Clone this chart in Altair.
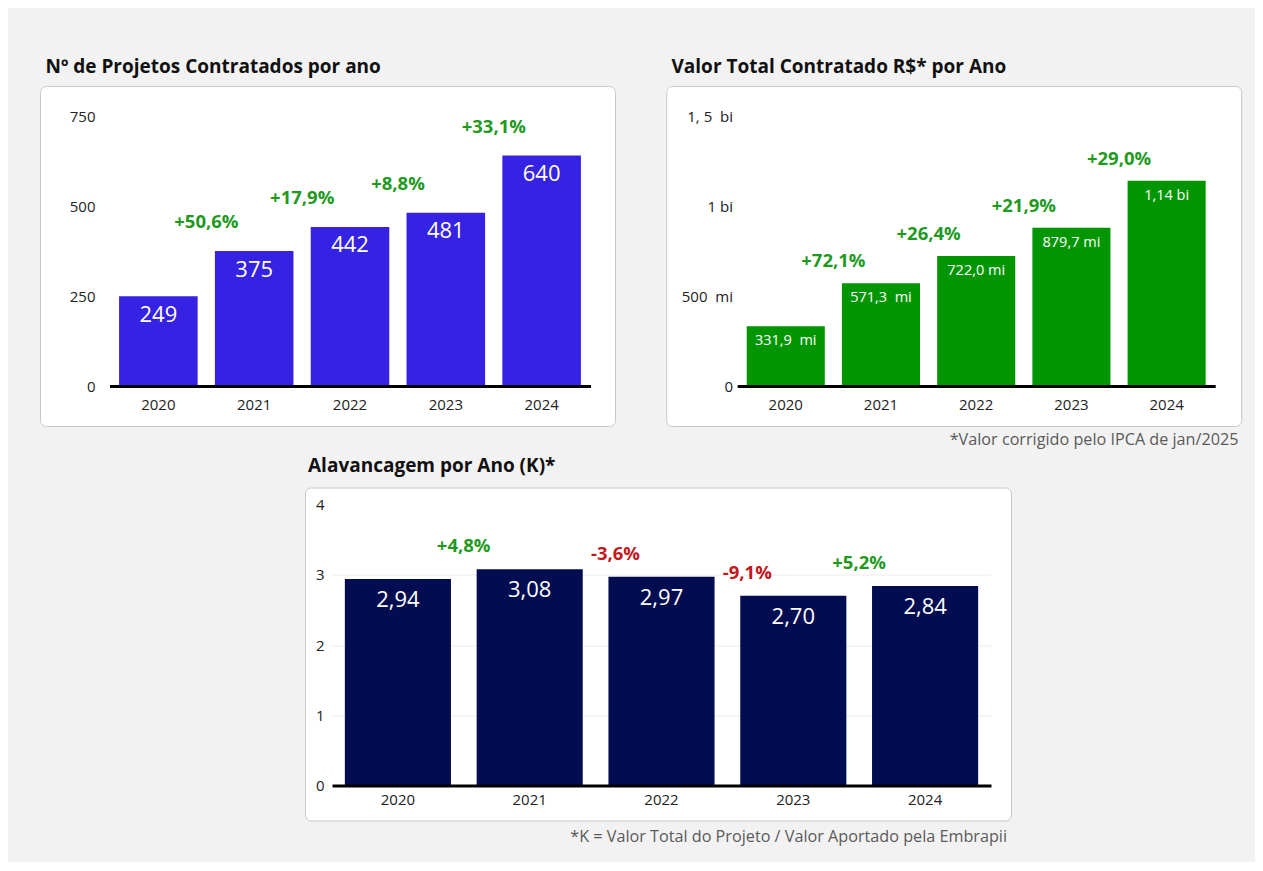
import altair as alt
import pandas as pd

FONT = "Open Sans"

anos = ["2020", "2021", "2022", "2023", "2024"]

projetos = [249, 375, 442, 481, 640]
projetos_var = [None, 50.6, 17.9, 8.8, 33.1]
projetos_ticks = [0, 250, 500, 750]

valor_mi = [331.9, 571.3, 722.0, 879.7, 1140.0]
valor_rotulos = ["331,9\u00a0 mi", "571,3\u00a0 mi", "722,0 mi", "879,7 mi", "1,14 bi"]
valor_var = [None, 72.1, 26.4, 21.9, 29.0]
valor_ticks = [0, 500, 1000, 1500]
valor_tick_rotulos = ["0\u00a0\u00a0", "500\u00a0 mi\u00a0", "1 bi\u00a0\u00a0", "1, 5\u00a0 bi"]

alav = [2.94, 3.08, 2.97, 2.70, 2.84]
alav_var = [None, 4.8, -3.6, -9.1, 5.2]
alav_ticks = [0, 1, 2, 3, 4]

titulos = [
    "Nº de Projetos Contratados por ano",
    "Valor Total Contratado R$* por Ano",
    "Alavancagem por Ano (K)*",
]
notas = [
    "*Valor corrigido pelo IPCA de jan/2025",
    "*K = Valor Total do Projeto / Valor Aportado pela Embrapii",
]

VERDE = "#1f9a1f"
VERMELHO = "#c4161c"


def pct(v):
    return None if v is None else f"{v:+.1f}%".replace(".", ",")


def frame(valores, rotulos, var):
    return pd.DataFrame({
        "ano": anos,
        "valor": valores,
        "rotulo": rotulos,
        "var": [0 if v is None else v for v in var],
        "tem": [v is not None for v in var],
        "var_txt": [pct(v) or "" for v in var],
    })


def painel(df, cor, dom, rng, ticks, label_expr, ylab_x, xrng, pi, po, W, H,
           zero_rel, xlab_pad, bar_font, bar_dy, pct_dy, dx_pos, dx_neg, grid,
           titulo, title_dx, title_off, nota=None, nota_xy=None):
    x = alt.X("ano:N", sort=anos, title=None,
              scale=alt.Scale(range=xrng, paddingInner=pi, paddingOuter=po),
              axis=alt.Axis(orient="bottom", offset=-(H - zero_rel), domainColor="black",
                            domainWidth=3, ticks=False, tickSize=0, labelPadding=xlab_pad,
                            labelAngle=0, labelFont=FONT, labelFontSize=15,
                            labelColor="#222222", grid=False, zindex=1))
    yaxis = dict(orient="left", offset=-ylab_x, values=ticks, domain=False, ticks=False,
                 tickSize=0, labelPadding=0, labelFont=FONT, labelFontSize=15,
                 labelColor="#222222", grid=grid, gridColor="#ebebeb", gridWidth=1,
                 gridOpacity=alt.condition("datum.value >= 4", alt.value(0), alt.value(1)))
    if label_expr:
        yaxis["labelExpr"] = label_expr
    y = alt.Y("valor:Q", title=None,
              scale=alt.Scale(domain=dom, range=rng, nice=False, zero=True),
              axis=alt.Axis(**yaxis))
    base = alt.Chart(df)
    barras = base.mark_bar(color=cor).encode(x=x, y=y)
    rot = base.mark_text(color="white", fontSize=bar_font, font=FONT, baseline="middle",
                         dy=bar_dy).encode(x=x, y=y, text="rotulo:N")
    pos = base.transform_filter("datum.tem && datum.var >= 0").mark_text(
        color=VERDE, fontSize=18.5, fontWeight="bold", font=FONT, baseline="middle",
        dy=pct_dy, dx=dx_pos).encode(x=x, y=y, text="var_txt:N")
    neg = base.transform_filter("datum.tem && datum.var < 0").mark_text(
        color=VERMELHO, fontSize=18.5, fontWeight="bold", font=FONT, baseline="middle",
        dy=pct_dy, dx=dx_neg).encode(x=x, y=y, text="var_txt:N")
    camadas = [barras, rot, pos, neg]
    if nota:
        camadas.append(
            alt.Chart(pd.DataFrame({"t": [nota]})).mark_text(
                align="right", baseline="middle", fontSize=16.2, font=FONT, color="#5a5a5a"
            ).encode(text="t:N", x=alt.value(nota_xy[0]), y=alt.value(nota_xy[1]))
        )
    return alt.layer(*camadas).properties(
        width=W, height=H,
        title=alt.TitleParams(titulo, anchor="start", dx=title_dx, offset=title_off,
                              font=FONT, fontSize=19, fontWeight="bold", color="#111111"),
        view=alt.ViewBackground(fill="white", stroke="#c8c8c8", strokeWidth=1,
                                cornerRadius=6),
    )


def expr_rotulos(ticks, rotulos):
    e = "''"
    for t, r in zip(ticks, rotulos):
        e = f"datum.value == {t} ? '{r}' : ({e})"
    return e


df1 = frame(projetos, [str(v) for v in projetos], projetos_var)
df2 = frame(valor_mi, valor_rotulos, valor_var)
df3 = frame(alav, [f"{v:.2f}".replace(".", ",") for v in alav], alav_var)

c1 = painel(df1, "#3522e3", [0, 750], [300, 30], projetos_ticks, None, 55,
            [69.5, 550.5], 0.18, 0.1, 575, 340, 300, 11.5, 22, 18.5, -29, -47.8, -47.8,
            False, titulos[0], 5.5, 9.5)
c2 = painel(df2, "#019601", [0, 1500], [300, 30], valor_ticks,
            expr_rotulos(valor_ticks, valor_tick_rotulos), 66.3,
            [71, 549], 0.18, 0.1, 575, 340, 300, 11.5, 14.5, 15, -22, -47.6, -47.6,
            False, titulos[1], 5.3, 9.5, notas[0], (572.3, 353.5))
c3 = painel(df3, "#020c50", [0, 4], [298, 17], alav_ticks, None, 19,
            [27, 686], 0.195, 0.0975, 706, 333, 298, 7, 22, 21, -23, -66, -46,
            True, titulos[2], 3, 12, notas[1], (702, 349))

espaco = alt.Chart(pd.DataFrame({"v": [0]})).mark_point(opacity=0, size=1).encode(
    x=alt.value(20), y=alt.value(5)
).properties(width=264.5, height=10,
             view=alt.ViewBackground(fill="transparent", strokeWidth=0))

linha1 = alt.hconcat(c1, c2, spacing=51.2, bounds="flush")
linha2 = alt.hconcat(espaco, c3, spacing=0, bounds="flush")

chart = alt.vconcat(linha1, linha2, spacing=6.5).properties(
    background="#f2f2f2",
    padding={"left": 31, "top": 49, "right": 13, "bottom": 16},
).configure(font=FONT).configure_view(strokeWidth=0)

chart.save("out.html", embed_options={"renderer": "svg", "actions": False})
